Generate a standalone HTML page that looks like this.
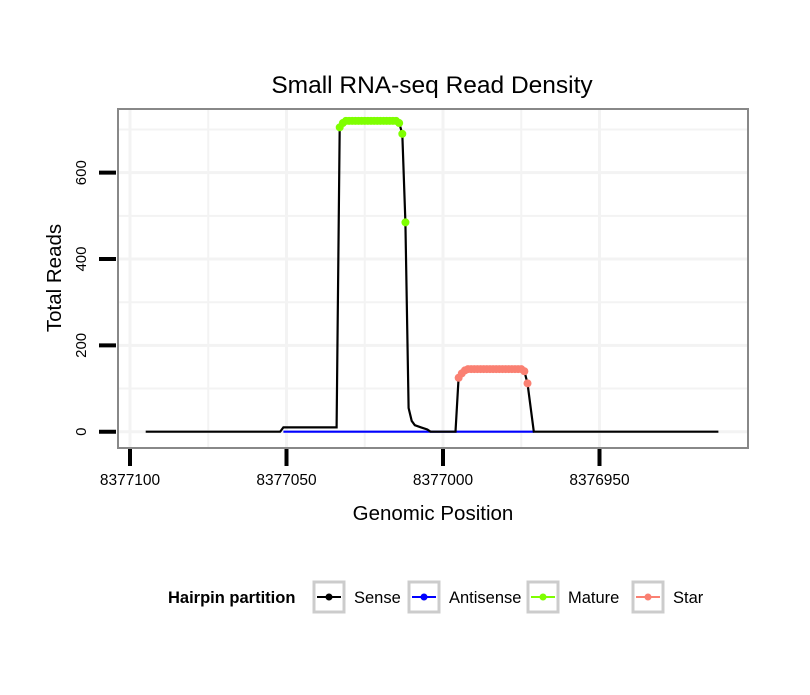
<!DOCTYPE html>
<html><head><meta charset="utf-8"><style>
body{margin:0;background:#fff;font-family:"Liberation Sans",sans-serif;}
svg text{font-family:"Liberation Sans",sans-serif;}
</style></head><body>
<svg id="chart" width="810" height="690">
<text x="432" y="93" font-size="24.5" text-anchor="middle">Small RNA-seq Read Density</text>
<rect x="118" y="109" width="630" height="339" fill="#fff" stroke="#888" stroke-width="2"/>
<g id="grid"></g><g id="axes"></g><g id="series"></g>
<text x="433" y="520" font-size="20.5" text-anchor="middle">Genomic Position</text>
<text transform="translate(61,278) rotate(-90)" font-size="20.5" text-anchor="middle">Total Reads</text>
<g>
<text x="168" y="603" font-size="16.5" font-weight="bold">Hairpin partition</text>
<g id="legend"></g>
</g>
</svg>
<script>
const xTicks=[8377100,8377050,8377000,8376950];
const xMinor=[8377075,8377025,8376975];
const yTicks=[0,200,400,600];
const yMinor=[100,300,500,700];
const sensePos=[8377095,8377052,8377051,8377034,8377033,8377032,8377031,8377015,8377014,8377013,8377012,8377011,8377010,8377009,8377007,8377005,8377004,8376996,8376995,8376994,8376993,8376975,8376974,8376973,8376971,8376912];
const senseVal=[0,0,10,10,705,715,720,720,715,690,485,55,25,15,10,5,0,0,125,135,142,145,140,112,0,0];
const antisensePos=[8377051,8376971];
const antisenseVal=[0,0];
const maturePos=[8377033,8377032,8377031,8377030,8377029,8377028,8377027,8377026,8377025,8377024,8377023,8377022,8377021,8377020,8377019,8377018,8377017,8377016,8377015,8377014,8377013,8377012];
const matureVal=[705,715,720,720,720,720,720,720,720,720,720,720,720,720,720,720,720,720,720,715,690,485];
const starPos=[8376995,8376994,8376993,8376992,8376991,8376990,8376989,8376988,8376987,8376986,8376985,8376984,8376983,8376982,8376981,8376980,8376979,8376978,8376977,8376976,8376975,8376974,8376973];
const starVal=[125,135,142,145,145,145,145,145,145,145,145,145,145,145,145,145,145,145,145,145,145,140,112];
const xs=p=>130+(8377100-p)*3.13;
const ys=v=>431.7-v*0.4317;
const NS="http://www.w3.org/2000/svg";
function mk(tag,attrs,parent){const e=document.createElementNS(NS,tag);for(const k in attrs)e.setAttribute(k,attrs[k]);parent.appendChild(e);return e;}
const grid=document.getElementById('grid'),axes=document.getElementById('axes'),series=document.getElementById('series');
yMinor.concat(yTicks).forEach(v=>{const l=mk('line',{x1:119,x2:747,y1:ys(v),y2:ys(v),stroke:'#f3f3f3','stroke-width':yTicks.includes(v)?3:2},grid);

});
xMinor.concat(xTicks).forEach(p=>{const x=xs(p);if(x<119||x>747)return;const l=mk('line',{x1:x,x2:x,y1:110,y2:447,stroke:'#f3f3f3','stroke-width':xTicks.includes(p)?3:2},grid);

});
yTicks.forEach(v=>{const l=mk('line',{x1:99,x2:116,y1:ys(v),y2:ys(v),stroke:'#000','stroke-width':4},axes);


const t=mk('text',{transform:`translate(86,${ys(v)}) rotate(-90)`,'font-size':15,'text-anchor':'middle'},axes);t.textContent=v;

});
xTicks.forEach(p=>{const l=mk('line',{x1:xs(p),x2:xs(p),y1:449,y2:466,stroke:'#000','stroke-width':4},axes);


const t=mk('text',{x:xs(p),y:485,'font-size':15.5,'text-anchor':'middle'},axes);t.textContent=p;

});
function line(pos,val,color,name){const d=pos.map((p,i)=>(i?'L':'M')+xs(p).toFixed(1)+','+ys(val[i]).toFixed(1)).join('');
const e=mk('path',{d:d,fill:'none',stroke:color,'stroke-width':2.2},series);

}
function pts(pos,val,color,name){pos.forEach((p,i)=>{const c=mk('circle',{cx:xs(p),cy:ys(val[i]),r:4,fill:color},series);

});}
line(antisensePos,antisenseVal,'#0000ff','antisense-line');
line(sensePos,senseVal,'#000','sense-line');
pts(maturePos,matureVal,'#7fff00','mature-point');
pts(starPos,starVal,'#fa8072','star-point');
const leg=document.getElementById('legend');
const items=[['Sense','#000',314],['Antisense','#0000ff',409],['Mature','#7fff00',528],['Star','#fa8072',633]];
items.forEach(([n,c,x])=>{const g=mk('g',{},leg);


mk('rect',{x:x,y:582,width:30,height:30,fill:'#fff',stroke:'#ccc','stroke-width':3},g);
mk('line',{x1:x+3,x2:x+27,y1:597,y2:597,stroke:c,'stroke-width':2},g);
mk('circle',{cx:x+15,cy:597,r:3.5,fill:c},g);
const t=mk('text',{x:x+40,y:603,'font-size':16.5},g);t.textContent=n;});
</script>
</body></html>
